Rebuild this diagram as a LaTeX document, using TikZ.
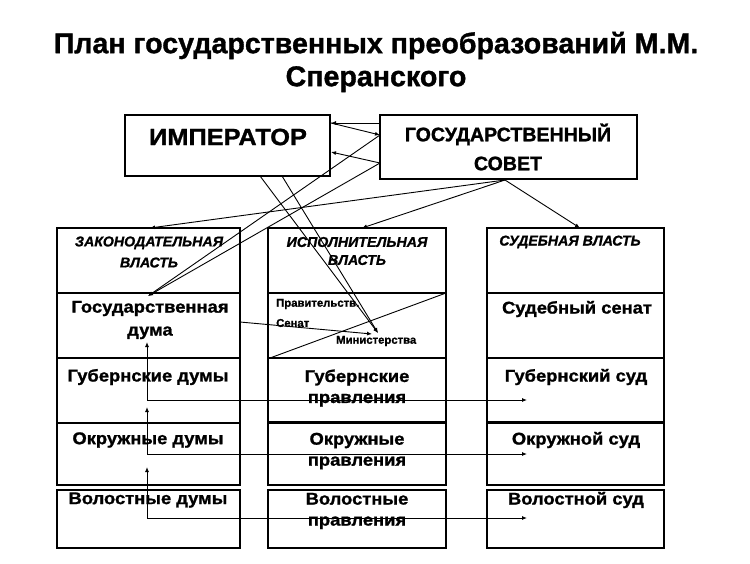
\documentclass[tikz,border=0pt]{standalone}
\usepackage{fontspec}
\setmainfont{Liberation Sans}[BoldFeatures={FakeBold=1.2}, BoldItalicFeatures={FakeBold=1.2}]
\newfontfamily\wfont{Liberation Sans}[FakeStretch=1.08, BoldFeatures={FakeBold=1.2}]
\usetikzlibrary{arrows.meta}
\begin{document}
\begin{tikzpicture}[x=1pt,y=-1pt,
  cell/.style={draw, line width=1.4pt, inner sep=0pt},
  bigbox/.style={draw, line width=2.8pt, inner sep=0pt},
  midbox/.style={draw, line width=1.6pt, inner sep=0pt},
  lbl/.style={font=\wfont\bfseries\fontsize{17}{21}\selectfont, align=center, inner sep=0pt},
  hdr/.style={font=\bfseries\itshape\fontsize{14.2}{21}\selectfont, align=center, inner sep=0pt},
  sml/.style={font=\bfseries\fontsize{11.3}{19}\selectfont, align=left, inner sep=0pt, anchor=west},
  arr/.style={-{Latex[length=5pt,width=4pt]}, line width=0.9pt},
  ln/.style={line width=0.9pt}]
\useasboundingbox (0,0) rectangle (750,563);
% title
\node[font=\bfseries\fontsize{28.6}{33}\selectfont, align=center, inner sep=0pt] (title) at (376,62)
  {План государственных преобразований М.М.\\Сперанского};
% top boxes
\node[bigbox, minimum width=205pt, minimum height=61pt] (emp) at (227.5,145.5) {};
\node[font=\wfont\bfseries\fontsize{23.5}{25}\selectfont, inner sep=0pt] (empt) at (228,137) {ИМПЕРАТОР};
\node[midbox, minimum width=257pt, minimum height=64pt] (sov) at (508.5,147) {};
\node[font=\bfseries\fontsize{19.6}{29}\selectfont, align=center, inner sep=0pt] (sovt) at (508,147) {ГОСУДАРСТВЕННЫЙ\\СОВЕТ};
% columns: left
\node[cell, minimum width=183pt, minimum height=65pt] (L1) at (148.5,260.5) {};
\node[cell, minimum width=183pt, minimum height=65pt] (L2) at (148.5,325.5) {};
\node[cell, minimum width=183pt, minimum height=65pt] (L3) at (148.5,390.5) {};
\node[cell, line width=2.6pt, minimum width=183pt, minimum height=62pt] (L4) at (148.5,454) {};
\node[cell, minimum width=183pt, minimum height=58pt] (L5) at (148.5,519) {};
% middle
\node[cell, minimum width=178pt, minimum height=65pt] (M1) at (357,260.5) {};
\node[cell, minimum width=178pt, minimum height=65pt] (M2) at (357,325.5) {};
\node[cell, minimum width=178pt, minimum height=65pt] (M3) at (357,390.5) {};
\node[cell, minimum width=178pt, minimum height=62pt] (M4) at (357,454) {};
\node[cell, minimum width=178pt, minimum height=58pt] (M5) at (357,519) {};
% right
\node[cell, minimum width=177pt, minimum height=65pt] (R1) at (575.5,260.5) {};
\node[cell, minimum width=177pt, minimum height=65pt] (R2) at (575.5,325.5) {};
\node[cell, minimum width=177pt, minimum height=65pt] (R3) at (575.5,390.5) {};
\node[cell, minimum width=177pt, minimum height=62pt] (R4) at (575.5,454) {};
\node[cell, minimum width=177pt, minimum height=58pt] (R5) at (575.5,519) {};
% thicker line between rows 3 and 4
\draw[line width=2pt] (M4.north west) -- (M4.north east);
\draw[line width=2pt] (R4.north west) -- (R4.north east);
% texts
\node[hdr] (L1t) at (149,252) {ЗАКОНОДАТЕЛЬНАЯ\\ВЛАСТЬ};
\node[hdr, font=\bfseries\itshape\fontsize{14.2}{18}\selectfont] (M1t) at (357,251) {ИСПОЛНИТЕЛЬНАЯ\\ВЛАСТЬ};
\node[hdr] (R1t) at (570,242) {СУДЕБНАЯ ВЛАСТЬ};
\node[lbl, font=\wfont\bfseries\fontsize{17}{23}\selectfont] (L2t) at (150,320) {Государственная\\дума};
\node[sml] (M2a) at (276,304) {Правительств.};
\node[sml] (M2b) at (276,323) {Сенат};
\node[sml] (M2c) at (336,341) {Министерства};
\node[lbl] (R2t) at (577,309) {Судебный сенат};
\node[lbl] (L3t) at (148,377) {Губернские думы};
\node[lbl] (M3t) at (357,388) {Губернские\\правления};
\node[lbl] (R3t) at (576,377) {Губернский суд};
\node[lbl] (L4t) at (148,440) {Окружные думы};
\node[lbl] (M4t) at (357,451) {Окружные\\правления};
\node[lbl] (R4t) at (576,440) {Окружной суд};
\node[lbl] (L5t) at (148,500) {Волостные думы};
\node[lbl] (M5t) at (357,511) {Волостные\\правления};
\node[lbl] (R5t) at (576,500) {Волостной суд};
% double line under row 4
\draw[line width=1.4pt] (L5.north west) ++(0,-5) coordinate (dl) -- ++(183,0) coordinate (dlr);
\draw[line width=1.4pt] (M5.north west) ++(0,-5) coordinate (dm) -- ++(178,0) coordinate (dmr);
\draw[line width=1.4pt] (R5.north west) ++(0,-5) coordinate (dr) -- ++(177,0) coordinate (drr);
% connector points
\coordinate (cl1) at (380,123);
\coordinate (er1) at (331,123);
\coordinate (cl2) at (380,135);
\coordinate (cl3) at (380,163);
\coordinate (er2) at (331,152);
\coordinate (dumatop) at (148,296);
\coordinate (eb1) at (260,176);
\coordinate (eb2) at (282,176);
\coordinate (mins) at (378,333);
\coordinate (dumar) at (240,322);
\coordinate (mins2) at (372,334);
\coordinate (dg1) at (270,358);
\coordinate (dg2) at (446,293);
\coordinate (cb) at (505,180);
\coordinate (Ltop) at (150,228);
\coordinate (Mtop) at (362,228);
\coordinate (Rtop) at (580,228);
\coordinate (g0) at (147,400);
\coordinate (g1) at (147,342);
\coordinate (g2) at (527,400);
\coordinate (o0) at (147,454);
\coordinate (o1) at (147,407);
\coordinate (o2) at (527,454);
\coordinate (v0) at (147,518);
\coordinate (v1) at (147,467);
\coordinate (v2) at (527,518);
% connectors
\draw[arr] (cl1) -- (er1);
\draw[arr] (er1) -- (cl2);
\draw[arr] (cl3) -- (er2);
\draw[arr] (cl2) -- (dumatop);
\draw[arr] (cl3) -- (dumatop);
\draw[arr] (eb1) -- (mins);
\draw[arr] (eb2) -- (mins);
\draw[arr] (dumar) -- (mins2);
\draw[ln] (dg1) -- (dg2);
\draw[arr] (cb) -- (Ltop);
\draw[arr] (cb) -- (Mtop);
\draw[arr] (cb) -- (Rtop);
\draw[arr] (g0) -- (g1);
\draw[arr] (g0) -- (g2);
\draw[arr] (o0) -- (o1);
\draw[arr] (o0) -- (o2);
\draw[arr] (v0) -- (v1);
\draw[arr] (v0) -- (v2);
\end{tikzpicture}
\end{document}
